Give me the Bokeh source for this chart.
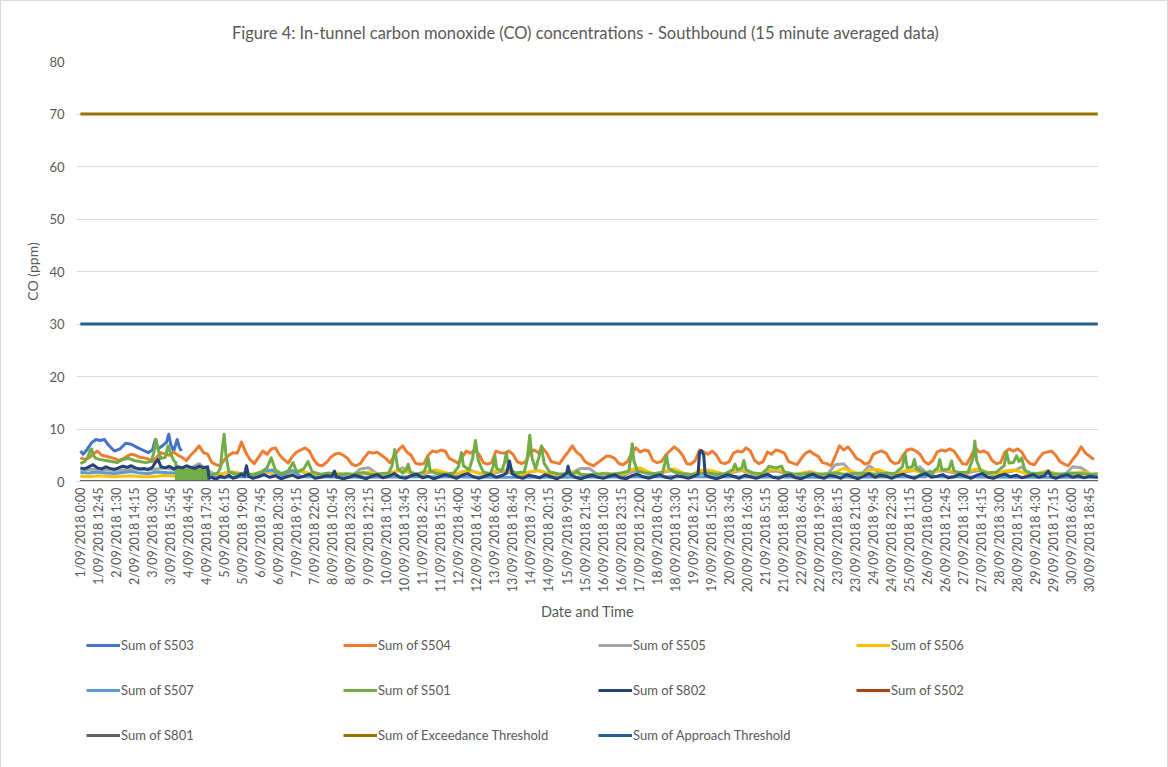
from math import pi
from bokeh.plotting import figure
from bokeh.layouts import column
from bokeh.models import Range1d, FixedTicker, Legend, LegendItem
from bokeh.embed import file_html
from bokeh.resources import INLINE

# ---------------- data ----------------
tick_labels = ["1/09/2018 0:00", "1/09/2018 12:45", "2/09/2018 1:30", "2/09/2018 14:15", "3/09/2018 3:00",
               "3/09/2018 15:45", "4/09/2018 4:45", "4/09/2018 17:30", "5/09/2018 6:15", "5/09/2018 19:00",
               "6/09/2018 7:45", "6/09/2018 20:30", "7/09/2018 9:15", "7/09/2018 22:00", "8/09/2018 10:45",
               "8/09/2018 23:30", "9/09/2018 12:15", "10/09/2018 1:00", "10/09/2018 13:45", "11/09/2018 2:30",
               "11/09/2018 15:15", "12/09/2018 4:00", "12/09/2018 16:45", "13/09/2018 6:00", "13/09/2018 18:45",
               "14/09/2018 7:30", "14/09/2018 20:15", "15/09/2018 9:00", "15/09/2018 21:45", "16/09/2018 10:30",
               "16/09/2018 23:15", "17/09/2018 12:00", "18/09/2018 0:45", "18/09/2018 13:30", "19/09/2018 2:15",
               "19/09/2018 15:00", "20/09/2018 3:45", "20/09/2018 16:30", "21/09/2018 5:15", "21/09/2018 18:00",
               "22/09/2018 6:45", "22/09/2018 19:30", "23/09/2018 8:15", "23/09/2018 21:00", "24/09/2018 9:45",
               "24/09/2018 22:30", "25/09/2018 11:15", "26/09/2018 0:00", "26/09/2018 12:45", "27/09/2018 1:30",
               "27/09/2018 14:15", "28/09/2018 3:00", "28/09/2018 15:45", "29/09/2018 4:30", "29/09/2018 17:15",
               "30/09/2018 6:00", "30/09/2018 18:45"]
samples_per_label = 51          # 15-minute records between labelled categories
samples_per_hour = 4
last_hour = 719.75

# S503 (hours, ppm)
s503 = [(0, 5.8), (2, 5.2), (5, 6.2), (8, 7.4), (11, 8.0), (14, 7.8), (17, 8.0), (20, 6.9), (24, 5.8),
        (28, 6.2), (32, 7.3), (36, 7.1), (40, 6.5), (44, 6.0), (48, 5.5), (51, 6.0), (53, 8.0), (55, 6.2),
        (58, 6.8), (61, 7.5), (62.5, 9.0), (64, 7.0), (66, 5.8), (68.5, 8.0), (70, 6.5), (71.5, 5.8)]

# S504, 3-hourly readings (0,3,...,21 h) for each day 1..30
s504_daily = [
    [4.5, 4.2, 4.5, 5.2, 5.8, 5.0, 4.8, 4.6], [4.4, 4.0, 4.3, 4.8, 5.2, 5.0, 4.6, 4.5],
    [4.3, 3.8, 4.6, 5.5, 5.2, 5.0, 5.6, 5.0], [4.6, 4.0, 5.0, 5.8, 6.8, 5.5, 5.2, 3.6],
    [3.2, 3.0, 4.2, 5.0, 5.5, 5.4, 7.5, 5.5], [4.2, 3.4, 4.6, 5.8, 5.2, 6.2, 6.4, 5.0],
    [4.2, 3.5, 4.8, 5.6, 6.0, 6.4, 5.8, 4.2], [3.2, 3.0, 3.6, 4.6, 5.2, 5.4, 5.0, 4.4],
    [3.3, 3.0, 3.4, 4.6, 5.6, 5.4, 5.6, 5.0], [4.4, 3.6, 4.8, 6.0, 6.8, 5.6, 5.0, 3.5],
    [3.3, 3.4, 5.0, 5.8, 5.6, 6.0, 5.8, 4.4], [4.0, 3.5, 4.6, 5.8, 5.4, 6.0, 5.2, 3.6],
    [3.3, 3.6, 5.8, 5.5, 5.4, 5.8, 5.2, 3.8], [3.4, 3.8, 5.5, 6.0, 5.5, 6.4, 5.4, 3.8],
    [3.6, 3.4, 4.6, 5.6, 6.8, 5.6, 5.0, 3.8], [3.3, 3.0, 3.6, 4.2, 4.8, 4.8, 4.4, 3.4],
    [3.2, 3.8, 5.4, 6.4, 5.6, 6.0, 5.8, 4.0], [3.6, 3.8, 5.0, 5.8, 6.6, 6.0, 5.0, 3.4],
    [3.3, 4.0, 6.0, 5.6, 5.2, 5.8, 5.0, 3.6], [3.4, 3.8, 5.4, 5.8, 5.6, 6.4, 5.8, 4.0],
    [3.4, 3.8, 5.6, 5.2, 6.0, 5.8, 5.4, 3.8], [3.5, 3.2, 4.4, 5.4, 5.8, 5.2, 4.8, 3.6],
    [3.4, 3.0, 4.8, 6.8, 6.0, 6.6, 5.6, 4.4], [4.0, 3.3, 3.6, 5.2, 5.6, 5.8, 5.4, 4.0],
    [3.4, 3.6, 5.0, 6.0, 6.2, 5.8, 5.2, 3.8], [3.3, 4.0, 5.6, 6.0, 5.8, 6.2, 5.8, 4.6],
    [3.4, 3.3, 4.8, 6.4, 5.6, 5.8, 5.4, 4.0], [3.4, 3.6, 5.6, 6.2, 5.8, 6.2, 5.6, 4.2],
    [3.4, 3.2, 4.4, 5.4, 5.6, 5.8, 5.0, 3.8], [3.3, 3.0, 4.2, 5.2, 6.6, 5.4, 4.8, 4.2]]

# S505, 6-hourly readings (0,6,12,18 h) per day
s505_daily = [
    [2.2, 2.3, 2.4, 2.2], [2.1, 2.2, 2.4, 2.3], [2.2, 2.4, 2.6, 2.3], [2.3, 2.5, 3.4, 2.2],
    [1.2, 1.6, 1.8, 1.4], [1.1, 1.5, 1.8, 1.4], [1.2, 1.6, 1.9, 1.5], [1.1, 1.4, 1.6, 1.3],
    [1.0, 2.4, 2.6, 1.5], [1.2, 1.8, 2.6, 1.5], [1.2, 1.7, 2.0, 1.5], [1.1, 1.8, 2.1, 1.6],
    [1.2, 1.7, 2.0, 1.5], [1.2, 1.8, 2.1, 1.6], [1.0, 1.4, 1.7, 2.5], [2.5, 1.3, 1.6, 1.2],
    [1.2, 1.8, 2.0, 1.5], [1.2, 1.9, 2.1, 1.5], [1.1, 1.8, 2.0, 1.6], [1.2, 1.8, 2.1, 1.5],
    [1.2, 1.9, 2.0, 1.6], [1.1, 1.5, 1.8, 1.4], [1.2, 3.2, 3.4, 1.6], [1.2, 3.0, 1.9, 1.5],
    [1.2, 1.8, 2.0, 2.8], [1.2, 2.0, 2.0, 1.6], [1.2, 1.8, 2.1, 1.5], [1.2, 1.7, 2.0, 2.8],
    [1.2, 1.6, 2.0, 1.5], [1.2, 2.8, 2.6, 1.5]]

# S506, 6-hourly readings per day
s506_daily = [
    [1.0, 0.9, 1.1, 1.0], [0.9, 1.0, 1.1, 0.9], [0.9, 1.0, 1.2, 1.0], [1.0, 1.1, 1.3, 1.2],
    [1.1, 1.6, 1.8, 1.5], [1.2, 1.7, 1.9, 1.6], [1.2, 1.8, 2.0, 1.5], [1.1, 1.4, 1.7, 1.4],
    [1.0, 1.3, 1.8, 1.5], [1.2, 1.9, 2.1, 1.6], [1.2, 2.0, 2.2, 1.7], [1.3, 1.8, 2.0, 1.6],
    [1.2, 2.0, 2.2, 1.8], [1.3, 1.9, 2.1, 1.6], [1.1, 1.5, 1.8, 1.4], [1.0, 1.3, 1.6, 1.3],
    [1.2, 2.3, 2.6, 1.8], [1.3, 2.0, 2.4, 1.7], [1.2, 2.1, 2.2, 1.8], [1.3, 2.0, 2.3, 1.7],
    [1.2, 2.1, 2.4, 1.8], [1.1, 1.6, 1.9, 1.5], [1.1, 1.8, 2.5, 1.9], [1.3, 2.2, 2.3, 1.7],
    [1.2, 2.0, 2.2, 1.8], [1.3, 2.1, 2.3, 1.9], [1.2, 2.2, 2.4, 1.7], [1.3, 2.0, 2.2, 1.8],
    [1.2, 1.6, 1.9, 1.5], [1.1, 1.5, 1.8, 1.6]]

# S507 (hours, ppm)
s507 = [(0, 1.7), (6, 1.6), (12, 1.8), (18, 1.6), (24, 1.5), (30, 1.7), (36, 1.9), (42, 1.6), (48, 1.5),
        (54, 1.8), (60, 1.7), (66, 1.6), (72, 1.8), (78, 1.7), (84, 1.6), (90, 1.7), (92, 0.8), (120, 0.9),
        (130, 2.0), (136, 2.2), (142, 1.0), (150, 2.1), (156, 0.9), (200, 0.8), (240, 0.9), (330, 0.8),
        (420, 0.9), (520, 0.8), (598, 0.9), (601, 2.0), (604, 0.9), (680, 0.8), (719.75, 0.8)]

# S501 (hours, ppm)
s501 = [(0, 3.4), (3, 3.8), (5, 4.5), (7, 6.0), (8, 6.2), (9, 5.0), (11, 4.4), (14, 4.2), (18, 4.0),
        (22, 3.8), (26, 3.6), (30, 4.2), (34, 4.4), (38, 4.0), (42, 3.8), (46, 3.6), (50, 3.8), (52, 5.5),
        (53.5, 8.0), (55, 6.0), (57, 4.4), (60, 4.6), (62, 6.8), (64, 5.2), (66, 4.0), (67.5, 3.6),
        (68, 0.3), (68.5, 2.2), (69, 0.2), (69.5, 2.4), (70, 0.4), (70.5, 2.0), (71, 0.2), (71.5, 2.3),
        (72, 0.3), (72.5, 2.1), (73, 0.2), (73.5, 2.4), (74, 0.3), (74.5, 2.2), (75, 0.4), (75.5, 2.0),
        (76, 0.2), (76.5, 2.3), (77, 0.3), (77.5, 2.2), (78, 0.2), (78.5, 2.4), (79, 0.3), (79.5, 2.1),
        (80, 0.4), (80.5, 2.3), (81, 0.2), (81.5, 2.2), (82, 0.3), (82.5, 2.0), (83, 0.2), (83.5, 2.4),
        (84, 0.3), (84.5, 2.2), (85, 0.4), (85.5, 2.1), (86, 0.2), (86.5, 2.3), (87, 0.3), (87.5, 2.2),
        (88, 0.2), (88.5, 2.0), (89, 0.3), (89.5, 2.4), (90, 0.2), (90.5, 2.2),
        (91, 1.2), (94, 1.4), (97, 1.6), (99, 2.5), (100.5, 6.5), (101.7, 9.0), (103, 5.0), (105, 1.8),
        (110, 1.4), (116, 1.6), (122, 1.3), (128, 1.8), (132, 2.6), (135, 4.5), (138, 2.2), (142, 1.5),
        (147, 2.0), (150.5, 3.6), (153, 1.8), (158, 2.4), (161, 3.8), (164, 1.8), (170, 1.4), (176, 1.6),
        (182, 1.3), (188, 1.5), (194, 1.4), (200, 1.7), (206, 1.3), (212, 1.5), (218, 1.6), (220.5, 3.0),
        (222.4, 6.1), (224.5, 2.5), (228, 1.6), (230.5, 2.2), (231.9, 3.3), (233.5, 1.8), (238, 1.4),
        (243, 1.8), (245, 3.2), (246, 4.5), (247.5, 2.0), (252, 1.5), (258, 1.4), (264, 1.6),
        (267.5, 2.8), (269.6, 5.5), (271, 3.0), (275, 2.2), (277.5, 4.5), (279.5, 7.8), (281.5, 4.0),
        (285, 1.8), (290, 1.5), (292, 2.8), (293.2, 4.9), (294.5, 2.5), (298, 2.0), (300, 3.5),
        (301.4, 5.5), (303, 2.4), (308, 1.6), (314, 1.8), (316, 4.0), (317.9, 8.8), (319.5, 4.5),
        (322, 2.4), (324.5, 4.8), (326.2, 6.8), (328, 3.5), (332, 1.8), (338, 1.5), (344, 1.4),
        (350, 1.6), (351.7, 2.0), (353.5, 1.4), (358, 1.3), (364, 1.4), (370, 1.5), (376, 1.4),
        (382, 1.6), (388, 2.0), (389.5, 5.0), (390.4, 7.2), (391.5, 4.0), (394, 2.0), (400, 1.6),
        (406, 1.5), (412, 1.8), (413.5, 3.5), (414.7, 5.0), (416, 2.6), (420, 1.8), (426, 1.5),
        (432, 1.4), (438, 1.5), (444, 1.6), (450, 1.4), (456, 1.5), (461.5, 2.2), (463, 3.3),
        (465, 2.2), (468, 2.6), (469.4, 4.0), (471, 2.2), (476, 1.6), (482, 1.5), (486, 2.4),
        (487, 2.9), (492, 2.6), (496, 2.9), (498, 1.8), (504, 1.5), (510, 1.4), (516, 1.6), (522, 1.4),
        (528, 1.5), (534, 1.6), (540, 1.4), (546, 1.5), (552, 1.6), (558, 1.5), (564, 1.4), (570, 1.6),
        (576, 1.5), (581.5, 2.8), (583.3, 5.3), (585, 2.6), (588.5, 2.8), (590, 4.2), (591.5, 2.4),
        (596, 1.8), (602, 1.6), (606.5, 2.6), (608, 4.2), (609.5, 2.2), (614.5, 2.4), (616.3, 3.9),
        (618, 2.0), (622, 1.7), (628, 1.8), (631.5, 4.5), (632.8, 7.7), (634, 4.0), (637, 2.0),
        (642, 1.6), (648, 1.8), (653.5, 3.0), (655.2, 5.5), (657, 3.5), (660, 3.6), (662.3, 4.9),
        (664, 3.8), (665.9, 4.5), (668, 2.2), (672, 1.6), (678, 1.5), (684, 1.6), (690, 1.4),
        (696, 1.5), (702, 1.6), (708, 1.5), (714, 1.4), (719.75, 1.5)]

# S802 (hours, ppm)
s802 = [(0, 2.6), (3, 2.4), (6, 2.8), (9, 3.2), (12, 2.6), (15, 2.4), (18, 2.8), (21, 2.5), (24, 2.3),
        (27, 2.6), (30, 2.9), (33, 2.7), (36, 3.0), (39, 2.6), (42, 2.4), (45, 2.5), (48, 2.3), (51, 2.7),
        (53, 3.6), (55, 4.2), (57, 2.8), (60, 2.6), (63, 2.9), (66, 2.4), (69, 2.8), (72, 2.6), (75, 3.0),
        (78, 2.7), (81, 2.5), (84, 2.9), (87, 2.6), (90, 2.8), (91, 0.6), (93, 0.8), (96, 0.4), (99, 1.0),
        (102, 0.7), (105, 1.2), (108, 0.6), (111, 0.9), (114, 1.4), (116, 1.0), (117.5, 3.0), (119, 1.0),
        (122, 0.6), (126, 0.9), (130, 1.3), (134, 0.8), (138, 1.1), (142, 0.5), (146, 0.9), (150, 1.2),
        (154, 0.7), (158, 1.0), (162, 1.4), (166, 0.6), (170, 0.8), (174, 1.1), (178, 1.0), (179.7, 2.0),
        (181, 0.9), (186, 0.5), (190, 0.8), (194, 1.2), (198, 0.9), (202, 0.5), (206, 1.0), (210, 1.3),
        (214, 0.7), (218, 1.0), (222, 1.5), (226, 0.8), (230, 0.6), (234, 1.1), (238, 1.4), (242, 0.7),
        (246, 1.0), (250, 0.5), (254, 0.9), (258, 1.3), (262, 1.0), (266, 0.6), (270, 1.2), (274, 1.5),
        (278, 0.9), (282, 0.6), (286, 1.0), (290, 1.4), (294, 0.8), (298, 1.1), (301.5, 1.6),
        (303.6, 3.9), (305.5, 1.5), (309, 0.9), (313, 0.6), (317, 1.2), (321, 1.0), (325, 0.7),
        (329, 1.3), (333, 0.9), (337, 0.5), (341, 1.0), (344, 1.6), (345, 2.9), (346.5, 1.4), (350, 0.8),
        (354, 0.5), (358, 0.9), (362, 1.2), (366, 0.8), (370, 0.6), (374, 1.0), (378, 1.3), (382, 0.7),
        (386, 0.5), (390, 1.1), (394, 1.4), (398, 0.9), (402, 0.6), (406, 1.0), (410, 1.3), (414, 0.8),
        (418, 0.6), (422, 1.1), (426, 0.9), (430, 0.6), (434, 1.0), (437, 1.4), (438, 5.6), (439.4, 5.9),
        (441, 5.0), (442, 1.2), (446, 0.8), (450, 0.5), (454, 0.9), (458, 1.3), (462, 1.0), (466, 0.6),
        (470, 1.2), (474, 0.9), (478, 0.6), (482, 1.0), (486, 1.4), (490, 0.8), (494, 0.6), (498, 1.1),
        (502, 1.3), (506, 0.7), (510, 0.5), (514, 1.0), (518, 1.4), (522, 0.9), (526, 0.6), (530, 1.2),
        (534, 1.0), (538, 0.6), (542, 1.3), (546, 0.9), (550, 0.5), (554, 1.0), (558, 1.5), (562, 0.8),
        (566, 1.2), (570, 1.0), (574, 0.6), (578, 1.1), (582, 1.4), (586, 0.9), (590, 0.6), (594, 1.2),
        (598, 1.5), (602, 0.8), (606, 1.0), (610, 1.3), (614, 0.7), (618, 0.9), (622, 1.4), (626, 1.0),
        (630, 0.6), (634, 1.2), (638, 1.5), (642, 0.8), (646, 0.6), (650, 1.1), (654, 1.4), (658, 0.9),
        (662, 1.2), (666, 0.7), (670, 1.0), (674, 1.3), (678, 0.8), (682, 1.1), (684.8, 2.0),
        (686.5, 1.0), (690, 0.6), (694, 1.0), (698, 1.3), (702, 0.8), (706, 1.1), (710, 0.7), (714, 1.0),
        (719.75, 0.8)]

s502 = [(0, 0.0), (719.75, 0.0)]
s801 = [(0, 0.0), (719.75, 0.0)]
exceedance_threshold = 70
approach_threshold = 30

# ---------------- helpers ----------------
def from_pairs(pairs):
    return [h * samples_per_hour for h, _ in pairs], [v for _, v in pairs]

def from_daily(daily, step_h):
    xs, ys = [], []
    for d, vals in enumerate(daily):
        for k, v in enumerate(vals):
            xs.append((d * 24 + k * step_h) * samples_per_hour)
            ys.append(v)
    return xs, ys

TXT = "#595959"
FONT = "Lato"
n_last = last_hour * samples_per_hour

p = figure(frame_width=1022, frame_height=420, output_backend="svg", toolbar_location=None,
           x_range=Range1d(-11, n_last + 2), y_range=Range1d(0, 80),
           min_border_left=75, min_border_right=69, min_border_top=60, min_border_bottom=140,
           title="Figure 4:  In-tunnel carbon monoxide (CO) concentrations - Southbound (15 minute averaged data)")
p.outline_line_color = None
p.title.align = "center"
p.title.text_font = FONT
p.title.text_font_size = "16.5px"
p.title.text_font_style = "normal"
p.title.text_color = TXT
p.title.standoff = 38
p.title.offset = 4

p.xgrid.visible = False
p.ygrid.grid_line_color = "#d9d9d9"
p.ygrid.grid_line_width = 1

ticks = [i * samples_per_label for i in range(len(tick_labels))]
p.xaxis.ticker = FixedTicker(ticks=ticks)
p.xaxis.major_label_overrides = {t: lab for t, lab in zip(ticks, tick_labels)}
p.xaxis.major_label_orientation = pi / 2
p.yaxis.ticker = FixedTicker(ticks=list(range(0, 81, 10)))
for ax in (p.xaxis, p.yaxis):
    ax.major_tick_line_color = None
    ax.minor_tick_line_color = None
    ax.major_tick_out = 0
    ax.major_tick_in = 0
    ax.minor_tick_out = 0
    ax.minor_tick_in = 0
    ax.major_label_text_font = FONT
    ax.major_label_text_color = TXT
    ax.axis_label_text_font = FONT
    ax.axis_label_text_font_style = "normal"
    ax.axis_label_text_color = TXT
p.xaxis.major_label_text_font_size = "12.5px"
p.yaxis.major_label_text_font_size = "13px"
p.xaxis.axis_label_text_font_size = "14.5px"
p.yaxis.axis_label_text_font_size = "14px"
p.xaxis.axis_line_color = "#d9d9d9"
p.yaxis.axis_line_color = None
p.xaxis.major_label_standoff = 6
p.yaxis.major_label_standoff = 12
p.xaxis.axis_label = "Date and Time"
p.yaxis.axis_label = "CO (ppm)"
p.xaxis.axis_label_standoff = 8
p.yaxis.axis_label_standoff = 5

series = [
    ("Sum of S503", from_pairs(s503), "#4472C4"),
    ("Sum of S504", from_daily(s504_daily, 3), "#ED7D31"),
    ("Sum of S505", from_daily(s505_daily, 6), "#A5A5A5"),
    ("Sum of S506", from_daily(s506_daily, 6), "#FFC000"),
    ("Sum of S507", from_pairs(s507), "#5B9BD5"),
    ("Sum of S501", from_pairs(s501), "#70AD47"),
    ("Sum of S802", from_pairs(s802), "#264478"),
    ("Sum of S502", from_pairs(s502), "#9E480E"),
    ("Sum of S801", from_pairs(s801), "#636363"),
    ("Sum of Exceedance Threshold", ([0, n_last], [exceedance_threshold] * 2), "#997300"),
    ("Sum of Approach Threshold", ([0, n_last], [approach_threshold] * 2), "#255E91"),
]

for label, (xs, ys), color in series:
    p.line(xs, ys, line_color=color, line_width=3, line_join="round")

# ---------------- legend strip: 3 rows x 4 columns of keys ----------------
LEG_H = 145
COL_X = [10, 267, 522, 780]      # left edge of each key column, from the strip's plotting area (px)
ROW_C = [22, 67, 112]            # vertical centre of each key row, from top (px)
KEY_H = 20

leg = figure(width=1166, height=LEG_H, output_backend="svg", toolbar_location=None,
             x_range=Range1d(0, 1), y_range=Range1d(0, 1), min_border=0)
leg.axis.visible = False
leg.grid.visible = False
leg.outline_line_color = None

for i, (label, _, color) in enumerate(series):
    # sample line placed outside the visible range; only its legend key is shown
    r = leg.line([-2, -1], [-2, -1], line_color=color, line_width=3)
    row, col = divmod(i, 4)
    lg = Legend(items=[LegendItem(label=label, renderers=[r])], orientation="horizontal",
                location=(COL_X[col], LEG_H - ROW_C[row] - KEY_H // 2),
                glyph_width=34, glyph_height=KEY_H, label_height=KEY_H, label_width=10,
                label_standoff=1, spacing=0, padding=0, margin=0,
                border_line_color=None, background_fill_alpha=0,
                label_text_font=FONT, label_text_font_size="13px", label_text_color=TXT,
                label_text_align="left")
    leg.add_layout(lg, "center")

page = column(p, leg, spacing=0, styles={"border": "1px solid #d9d9d9"})
open("out.html", "w").write(file_html(page, INLINE))
